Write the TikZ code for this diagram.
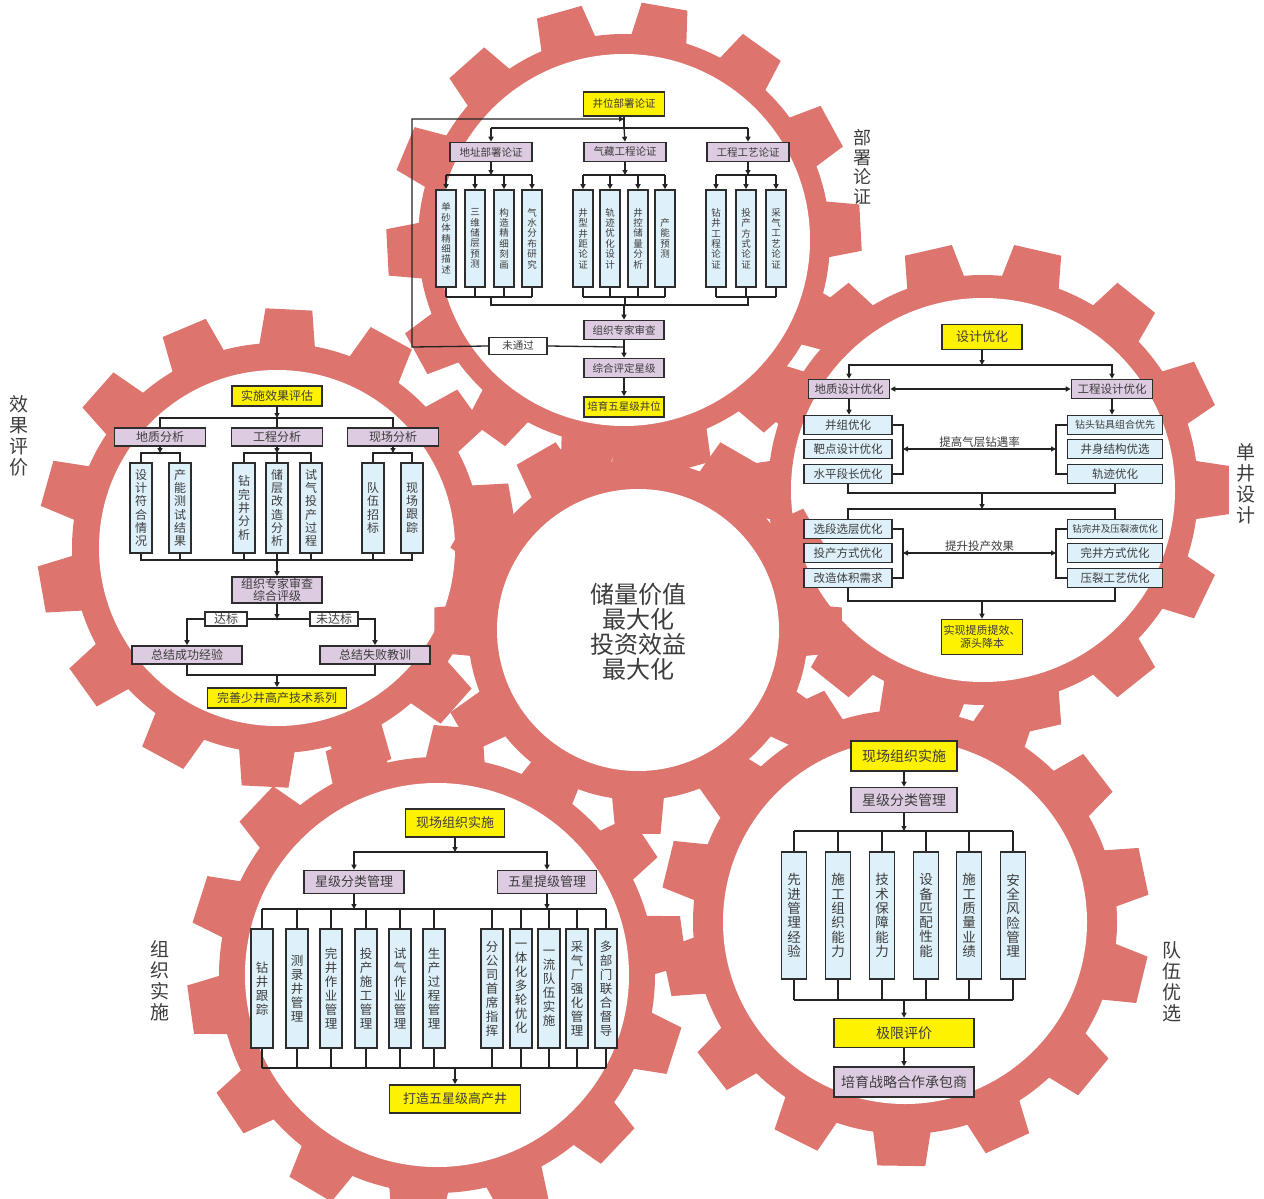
\documentclass[tikz,border=0pt]{standalone}
\usepackage{fontspec}
\setmainfont{Noto Sans CJK SC}
\usetikzlibrary{arrows.meta,calc}
\definecolor{gearcol}{RGB}{221,116,110}
\definecolor{ycol}{RGB}{255,242,0}
\definecolor{pcol}{RGB}{221,204,225}
\definecolor{bcol}{RGB}{222,241,250}
\definecolor{bord}{RGB}{45,45,45}
\definecolor{linec}{RGB}{35,35,35}
\definecolor{txt}{RGB}{60,60,60}
\newcommand\mygear[7]{%
  \fill[gearcol] (#1,#2) circle[radius=#3 pt];
  \foreach \k in {1,...,#5}{%
    \pgfmathsetmacro\aL{#6+360/#5*\k-#7}%
    \pgfmathsetmacro\aR{#6+360/#5*\k+#7}%
    \pgfmathsetmacro\tL{#6+360/#5*\k-#7*0.7}%
    \pgfmathsetmacro\tR{#6+360/#5*\k+#7*0.7}%
    \pgfmathsetmacro\rr{#3-3}%
    \fill[gearcol] ([shift={(#1,#2)}]\aL:\rr pt) -- ([shift={(#1,#2)}]\tL:#4 pt) -- ([shift={(#1,#2)}]\tR:#4 pt) -- ([shift={(#1,#2)}]\aR:\rr pt) -- cycle;
  }%
}
\tikzset{
  box/.style={draw=bord, line width=1.6pt, inner sep=0pt, text=txt, align=center},
  yb/.style={box, fill=ycol},
  pb/.style={box, fill=pcol},
  bb/.style={box, fill=bcol},
  wb/.style={box, fill=white},
  ln/.style={draw=linec, line width=1.3pt},
  arr/.style={ln, -{Triangle[length=5pt,width=5pt]}},
  darr/.style={ln, {Triangle[length=5pt,width=5pt]}-{Triangle[length=5pt,width=5pt]}},
  ftop/.style={font=\fontsize{10.5}{11}\selectfont},
  fleafT/.style={font=\fontsize{9.5}{10.4}\selectfont},
  fL/.style={font=\fontsize{12}{12.6}\selectfont},
  fleafL/.style={font=\fontsize{12}{13.3}\selectfont},
  fR/.style={font=\fontsize{11.5}{12}\selectfont},
  fB/.style={font=\fontsize{13}{14}\selectfont},
  fleafB/.style={font=\fontsize{12.5}{14}\selectfont},
  fC/.style={font=\fontsize{14}{15}\selectfont},
  fleafC/.style={font=\fontsize{13.5}{14.3}\selectfont},
  side/.style={text=txt, align=center, inner sep=0pt, font=\fontsize{19}{21}\selectfont},
  leafT/.style={bb, fleafT, minimum width=20pt, minimum height=97pt},
  leafL/.style={bb, fleafL, minimum width=22pt, minimum height=90pt},
  leafB/.style={bb, fleafB, minimum width=22pt, minimum height=119pt},
  leafC/.style={bb, fleafC, minimum width=25pt, minimum height=127pt},
}
\begin{document}
\begin{tikzpicture}[x=1pt,y=-1pt]
\useasboundingbox (0,0) rectangle (1264,1199);
\begin{scope}
\clip (0,0) rectangle (1264,1199);
\mygear{624}{240}{206}{238}{14}{3}{8}
\mygear{277}{548}{205}{240}{14}{10}{8}
\mygear{983}{490}{215}{247}{14}{0}{8}
\mygear{437}{975}{218}{250}{14}{8}{8}
\mygear{905}{922}{212}{245}{14}{12}{8}
\fill[white] (624,240) circle[radius=186pt];
\fill[white] (277,548) circle[radius=178pt];
\fill[white] (983,490) circle[radius=192pt];
\fill[white] (437,975) circle[radius=192pt];
\fill[white] (905,922) circle[radius=182pt];
\mygear{638}{630}{170}{205}{12}{0}{9}
\fill[white] (638,630) circle[radius=141pt];
\end{scope}

% ---------- top gear ----------
\node[yb, ftop, minimum width=81pt, minimum height=24pt] (t0) at (624,104) {井位部署论证};
\node[pb, ftop, minimum width=82pt, minimum height=19pt] (t1) at (491,152) {地址部署论证};
\node[pb, ftop, minimum width=82pt, minimum height=19pt] (t2) at (625,152) {气藏工程论证};
\node[pb, ftop, minimum width=82pt, minimum height=19pt] (t3) at (748,152) {工程工艺论证};
\node[leafT] (t11) at (446,238.5) {单\\砂\\体\\精\\细\\描\\述};
\node[leafT] (t12) at (475,238.5) {三\\维\\储\\层\\预\\测};
\node[leafT] (t13) at (504,238.5) {构\\造\\精\\细\\刻\\画};
\node[leafT] (t14) at (532,238.5) {气\\水\\分\\布\\研\\究};
\node[leafT] (t21) at (583,238.5) {井\\型\\井\\距\\论\\证};
\node[leafT] (t22) at (610,238.5) {轨\\迹\\优\\化\\设\\计};
\node[leafT] (t23) at (638,238.5) {井\\控\\储\\量\\分\\析};
\node[leafT] (t24) at (665,238.5) {产\\能\\预\\测};
\node[leafT] (t31) at (716,238.5) {钻\\井\\工\\程\\论\\证};
\node[leafT] (t32) at (746,238.5) {投\\产\\方\\式\\论\\证};
\node[leafT] (t33) at (776,238.5) {采\\气\\工\\艺\\论\\证};
\node[pb, ftop, minimum width=80pt, minimum height=19pt] (t4) at (624,330) {组织专家审查};
\node[pb, ftop, minimum width=80pt, minimum height=19pt] (t5) at (624,368) {综合评定星级};
\node[yb, ftop, minimum width=80pt, minimum height=20pt] (t6) at (624,407) {培育五星级井位};
\node[wb, ftop, minimum width=58pt, minimum height=17pt] (tn) at (518,346) {未通过};
\coordinate (tj0) at (624,128);
\coordinate (tfe) at (624,119);
\coordinate (tfb) at (624,347);
\coordinate (tfl) at (412,347);
\coordinate (tft) at (412,119);
\coordinate (tg1) at (491,175);
\coordinate (tg2) at (625,175);
\coordinate (tg3) at (748,175);
\coordinate (th1) at (491,297);
\coordinate (th2) at (625,297);
\coordinate (th3) at (748,297);
\coordinate (tk) at (624,305);
\begin{scope}[line width=1.1pt]
\draw[ln] (t0.south) -- (tj0);
\draw[ln] (t1 |- tj0) -- (t3 |- tj0);
\draw[arr] (t1 |- tj0) -- (t1.north);
\draw[arr] (tj0) -- (t2.north);
\draw[arr] (t3 |- tj0) -- (t3.north);
\draw[ln] (tfb) -- (tn.east);
\draw[arr] (tn.west) -- (tfl) -- (tft) -- (tfe);
\draw[arr] (t1.south) -- (tg1);
\draw[arr] (t2.south) -- (tg2);
\draw[arr] (t3.south) -- (tg3);
\draw[ln] (t11 |- tg1) -- (t14 |- tg1);
\draw[ln] (t21 |- tg2) -- (t24 |- tg2);
\draw[ln] (t31 |- tg3) -- (t33 |- tg3);
\foreach \n in {t11,t12,t13,t14}{\draw[arr] (\n |- tg1) -- (\n.north); \draw[ln] (\n.south) -- (\n |- th1);}
\foreach \n in {t21,t22,t23,t24}{\draw[arr] (\n |- tg2) -- (\n.north); \draw[ln] (\n.south) -- (\n |- th2);}
\foreach \n in {t31,t32,t33}{\draw[arr] (\n |- tg3) -- (\n.north); \draw[ln] (\n.south) -- (\n |- th3);}
\draw[ln] (t11 |- th1) -- (t14 |- th1);
\draw[ln] (t21 |- th2) -- (t24 |- th2);
\draw[ln] (t31 |- th3) -- (t33 |- th3);
\draw[ln] (th1) |- (tk);
\draw[ln] (th3) |- (tk);
\draw[ln] (th2) -- (th2 |- tk);
\draw[arr] (tk) -- (t4.north);
\draw[arr] (t4.south) -- (t5.north);
\draw[arr] (t5.south) -- (t6.north);
\end{scope}

% ---------- left gear ----------
\node[yb, fL, minimum width=90pt, minimum height=20pt] (l0) at (277,396) {实施效果评估};
\node[pb, fL, minimum width=91pt, minimum height=18pt] (l1) at (160,437) {地质分析};
\node[pb, fL, minimum width=91pt, minimum height=18pt] (l2) at (277,437) {工程分析};
\node[pb, fL, minimum width=91pt, minimum height=18pt] (l3) at (393,437) {现场分析};
\node[leafL] (l11) at (141,508) {设\\计\\符\\合\\情\\况};
\node[leafL] (l12) at (180,508) {产\\能\\测\\试\\结\\果};
\node[leafL] (l21) at (244,508) {钻\\完\\井\\分\\析};
\node[leafL] (l22) at (277,508) {储\\层\\改\\造\\分\\析};
\node[leafL] (l23) at (311,508) {试\\气\\投\\产\\过\\程};
\node[leafL] (l31) at (373,508) {队\\伍\\招\\标};
\node[leafL] (l32) at (412,508) {现\\场\\跟\\踪};
\node[pb, font=\fontsize{12}{12.5}\selectfont, minimum width=90pt, minimum height=26pt] (l4) at (277,590) {组织专家审查\\综合评级};
\node[wb, fL, minimum width=42pt, minimum height=14pt] (la) at (226,619) {达标};
\node[wb, fL, minimum width=48pt, minimum height=14pt] (lb) at (334,619) {未达标};
\node[pb, fL, minimum width=110pt, minimum height=18pt] (l5) at (187,655) {总结成功经验};
\node[pb, fL, minimum width=110pt, minimum height=18pt] (l6) at (375,655) {总结失败教训};
\node[yb, fL, minimum width=139pt, minimum height=20pt] (l7) at (277,698) {完善少井高产技术系列};
\coordinate (lj0) at (277,418);
\coordinate (lg1) at (160,453);
\coordinate (lg2) at (277,453);
\coordinate (lg3) at (393,453);
\coordinate (lb0) at (277,560);
\coordinate (lj2) at (277,619);
\coordinate (lj3) at (277,675);
\draw[arr] (l0.south) -- (lj0);
\draw[ln] (l1.north) |- (lj0) -| (l3.north);
\draw[ln] (l2.north) -- (lj0);
\draw[arr] (l1.south) -- (lg1);
\draw[arr] (l2.south) -- (lg2);
\draw[arr] (l3.south) -- (lg3);
\draw[ln] (l11.north) |- (lg1) -| (l12.north);
\draw[ln] (l21.north) |- (lg2) -| (l23.north);
\draw[ln] (l22.north) -- (lg2);
\draw[ln] (l31.north) |- (lg3) -| (l32.north);
\draw[ln] (l11.south) |- (lb0) -| (l32.south);
\foreach \n in {l12,l21,l22,l23,l31}{\draw[ln] (\n.south) -- (\n |- lb0);}
\draw[arr] (lb0) -- (l4.north);
\draw[arr] (l4.south) -- (lj2);
\draw[ln] (lj2) -- (la.east);
\draw[ln] (lj2) -- (lb.west);
\draw[arr] (la.west) -| (l5.north);
\draw[arr] (lb.east) -| (l6.north);
\draw[ln] (l5.south) |- (lj3) -| (l6.south);
\draw[arr] (lj3) -- (l7.north);

% ---------- right gear ----------
\node[yb, font=\fontsize{13}{14}\selectfont, minimum width=80pt, minimum height=25pt] (r0) at (982,337) {设计优化};
\node[pb, fR, minimum width=81pt, minimum height=19pt] (r1) at (849,389) {地质设计优化};
\node[pb, fR, minimum width=81pt, minimum height=19pt] (r2) at (1112,389) {工程设计优化};
\node[bb, fR, minimum width=88pt, minimum height=19pt] (r11) at (848,425) {并组优化};
\node[bb, fR, minimum width=88pt, minimum height=19pt] (r12) at (848,449) {靶点设计优化};
\node[bb, fR, minimum width=88pt, minimum height=19pt] (r13) at (848,474) {水平段长优化};
\node[bb, font=\fontsize{10}{11}\selectfont, minimum width=95pt, minimum height=19pt] (r21) at (1115,425) {钻头钻具组合优先};
\node[bb, fR, minimum width=95pt, minimum height=19pt] (r22) at (1115,449) {井身结构优选};
\node[bb, fR, minimum width=95pt, minimum height=19pt] (r23) at (1115,474) {轨迹优化};
\node[bb, fR, minimum width=88pt, minimum height=19pt] (r31) at (848,529) {选段选层优化};
\node[bb, fR, minimum width=88pt, minimum height=19pt] (r32) at (848,553) {投产方式优化};
\node[bb, fR, minimum width=88pt, minimum height=19pt] (r33) at (848,578) {改造体积需求};
\node[bb, font=\fontsize{9.5}{10}\selectfont, minimum width=95pt, minimum height=19pt] (r41) at (1115,529) {钻完井及压裂液优化};
\node[bb, fR, minimum width=95pt, minimum height=19pt] (r42) at (1115,553) {完井方式优化};
\node[bb, fR, minimum width=95pt, minimum height=19pt] (r43) at (1115,578) {压裂工艺优化};
\node[yb, font=\fontsize{11}{12.5}\selectfont, minimum width=81pt, minimum height=35pt] (r5) at (982,637) {实现提质提效、\\源头降本};
\coordinate (rj0) at (982,365);
\coordinate (rbl) at (903,449);
\coordinate (rbr) at (1056,449);
\coordinate (rj1) at (982,493);
\coordinate (rj2) at (982,509);
\coordinate (rcl) at (903,553);
\coordinate (rcr) at (1056,553);
\coordinate (rj3) at (982,601);
\draw[arr] (r0.south) -- (rj0);
\draw[arr] (rj0) -| (r1.north);
\draw[arr] (rj0) -| (r2.north);
\draw[darr] (r1.east) -- (r2.west);
\draw[arr] (r1.south) -- (r1.south |- r11.north);
\draw[arr] (r2.south) -- (r2.south |- r21.north);
\draw[ln] (r11.east) -| (rbl) |- (r13.east);
\draw[ln] (r21.west) -| (rbr) |- (r23.west);
\draw[darr] (rbl) -- node[above=1pt, inner sep=0pt, text=txt, fR] {提高气层钻遇率} (rbr);
\draw[ln] (r13.south) |- (rj1) -| (r23.south);
\draw[arr] (rj1) -- (rj2);
\draw[ln] (r31.north) |- (rj2) -| (r41.north);
\draw[ln] (r31.east) -| (rcl) |- (r33.east);
\draw[ln] (r41.west) -| (rcr) |- (r43.west);
\draw[darr] (rcl) -- node[above=1pt, inner sep=0pt, text=txt, fR] {提升投产效果} (rcr);
\draw[ln] (r33.south) |- (rj3) -| (r43.south);
\draw[arr] (rj3) -- (r5.north);

% ---------- bottom-left gear ----------
\node[yb, fB, minimum width=99pt, minimum height=28pt] (b0) at (455,823) {现场组织实施};
\node[pb, fB, minimum width=100pt, minimum height=23pt] (b1) at (354,882) {星级分类管理};
\node[pb, fB, minimum width=99pt, minimum height=23pt] (b2) at (547,882) {五星提级管理};
\node[leafB] (b11) at (262,988.5) {钻\\井\\跟\\踪};
\node[leafB] (b12) at (297,988.5) {测\\录\\井\\管\\理};
\node[leafB] (b13) at (331,988.5) {完\\井\\作\\业\\管\\理};
\node[leafB] (b14) at (366,988.5) {投\\产\\施\\工\\管\\理};
\node[leafB] (b15) at (400,988.5) {试\\气\\作\\业\\管\\理};
\node[leafB] (b16) at (434,988.5) {生\\产\\过\\程\\管\\理};
\node[leafB] (b21) at (492,988.5) {分\\公\\司\\首\\席\\指\\挥};
\node[leafB] (b22) at (521,988.5) {一\\体\\化\\多\\轮\\优\\化};
\node[leafB] (b23) at (549,988.5) {一\\流\\队\\伍\\实\\施};
\node[leafB] (b24) at (577,988.5) {采\\气\\厂\\强\\化\\管\\理};
\node[leafB] (b25) at (606,988.5) {多\\部\\门\\联\\合\\督\\导};
\node[yb, fB, minimum width=131pt, minimum height=28pt] (b3) at (455,1099) {打造五星级高产井};
\coordinate (bj0) at (455,852);
\coordinate (bj1) at (354,909);
\coordinate (bj2) at (547,909);
\coordinate (bj3) at (455,1068);
\draw[arr] (b0.south) -- (bj0);
\draw[arr] (bj0) -| (b1.north);
\draw[arr] (bj0) -| (b2.north);
\draw[arr] (b1.south) -- (bj1);
\draw[arr] (b2.south) -- (bj2);
\draw[ln] (b11 |- bj1) -- (b25 |- bj1);
\draw[ln] (b11 |- bj3) -- (b25 |- bj3);
\foreach \n in {b11,b12,b13,b14,b15,b16,b21,b22,b23,b24,b25}{\draw[ln] (\n |- bj1) -- (\n.north); \draw[ln] (\n.south) -- (\n |- bj3);}
\draw[arr] (bj3) -- (b3.north);

% ---------- bottom-right gear ----------
\node[yb, fC, minimum width=106pt, minimum height=30pt] (c0) at (904,756) {现场组织实施};
\node[pb, fC, minimum width=106pt, minimum height=25pt] (c1) at (904,800) {星级分类管理};
\node[leafC] (c11) at (794,915.5) {先\\进\\管\\理\\经\\验};
\node[leafC] (c12) at (838,915.5) {施\\工\\组\\织\\能\\力};
\node[leafC] (c13) at (882,915.5) {技\\术\\保\\障\\能\\力};
\node[leafC] (c14) at (926,915.5) {设\\备\\匹\\配\\性\\能};
\node[leafC] (c15) at (969,915.5) {施\\工\\质\\量\\业\\绩};
\node[leafC] (c16) at (1013,915.5) {安\\全\\风\\险\\管\\理};
\node[yb, fC, minimum width=140pt, minimum height=29pt] (c2) at (904,1033) {极限评价};
\node[pb, fC, minimum width=140pt, minimum height=30pt] (c3) at (904,1082) {培育战略合作承包商};
\coordinate (cj0) at (904,831);
\coordinate (cj1) at (904,1000);
\draw[arr] (c0.south) -- (c1.north);
\draw[arr] (c1.south) -- (cj0);
\draw[ln] (c11 |- cj0) -- (c16 |- cj0);
\draw[ln] (c11 |- cj1) -- (c16 |- cj1);
\foreach \n in {c11,c12,c13,c14,c15,c16}{\draw[ln] (\n |- cj0) -- (\n.north); \draw[ln] (\n.south) -- (\n |- cj1);}
\draw[arr] (cj1) -- (c2.north);
\draw[arr] (c2.south) -- (c3.north);

% ---------- centre and side labels ----------
\node[text=txt, align=center, inner sep=0pt, font=\fontsize{24}{25}\selectfont] (ctr) at (638,632) {储量价值\\最大化\\投资效益\\最大化};
\node[side, font=\fontsize{18}{19.5}\selectfont] (s1) at (862,167) {部\\署\\论\\证};
\node[side] (s2) at (19,436) {效\\果\\评\\价};
\node[side] (s3) at (1246,484) {单\\井\\设\\计};
\node[side] (s4) at (160,981) {组\\织\\实\\施};
\node[side] (s5) at (1172,982) {队\\伍\\优\\选};
\end{tikzpicture}
\end{document}
